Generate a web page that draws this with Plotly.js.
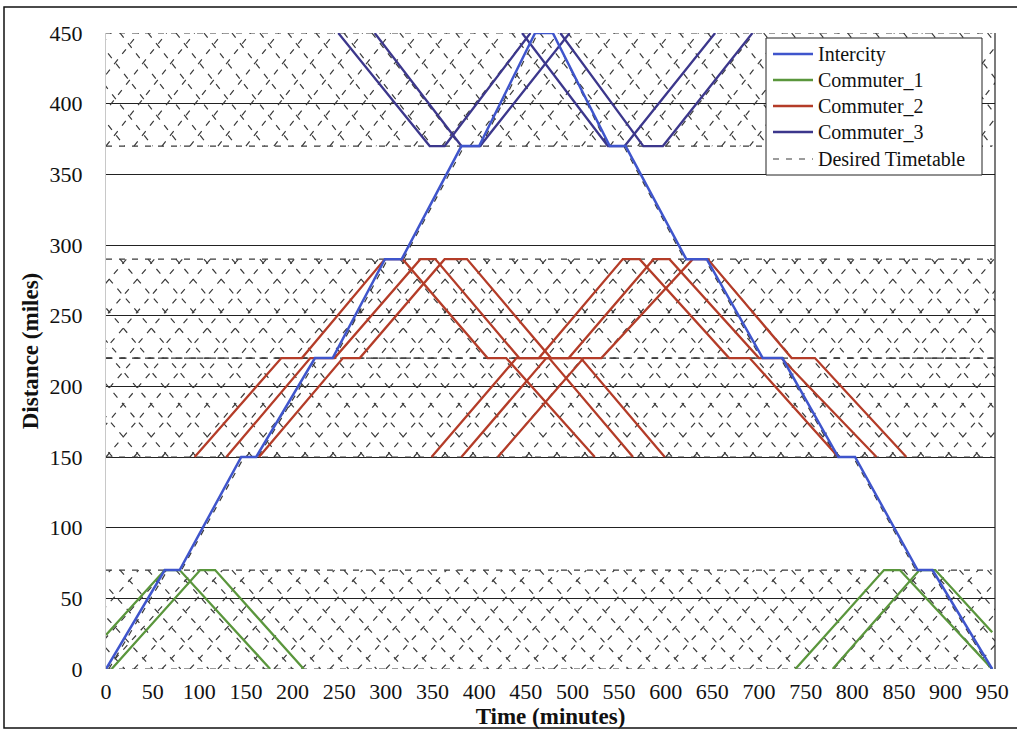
<!DOCTYPE html>
<html>
<head>
<meta charset="utf-8">
<script src="https://cdn.plot.ly/plotly-3.0.1.min.js"></script>
<style>html,body{margin:0;padding:0;background:#fff;}#chart{width:1017px;height:732px;}</style>
</head>
<body>
<div id="chart"></div>
<script>
// ---------------- data ----------------
const xTicks = [0,50,100,150,200,250,300,350,400,450,500,550,600,650,700,750,800,850,900,950];
const yTicks = [0,50,100,150,200,250,300,350,400,450];

// Intercity (time in minutes, distance in miles)
const icTime = [0,63,79,145,161,224,243,299,317,381,400,460,479,540,557,622,644,704,725,785,803,870,886,950];
const icDist = [0,70,70,150,150,220,220,290,290,370,370,450,450,370,370,290,290,220,220,150,150,70,70,0];

// Commuter_1 trips
const c1Time = [[0,63,79,176],[6,101,117,212],[739,834,851,950],[779,872,889,950]];
const c1Dist = [[24,70,70,0],[0,70,70,0],[0,70,70,0],[0,70,70,26]];

// Commuter_2 trips
const c2Time = [
  [95,188,210,299,318,409,429,524],
  [129,219,245,337,353,443,475,565],
  [164,254,272,363,387,477,509,599],
  [349,440,464,554,572,668,690,785],
  [381,472,496,587,604,700,724,826],
  [420,512,531,629,645,735,760,858]
];
const c2Dist = [150,220,220,290,290,220,220,150];

// Commuter_3 trips
const c3Time = [[249,347,363,455],[288,381,401,497],[446,538,556,653],[487,576,597,693]];
const c3Dist = [450,370,370,450];

// Desired timetable
const icDesiredTime = [3,66,81,148,163,227,245,302,319,384,402,463,479,538,555,620,642,702,723,783,801,868,884,948];
const zoneBottom = [0,150,370];
const zoneMid    = [null,220,null];
const zoneTop    = [70,290,450];
const zoneLegTime = [95,91,95];
const zoneMidDwell = [0,20,0];
const desiredUpDepart = [-210,-180,-150,-120,-90,-60,-30,0,30,60,90,120,150,180,210,240,270,300,330,360,390,420,450,480,510,540,570,600,630,660,690,720,750,780,810,840,870,900,930];
const desiredDownDepart = [-195,-165,-135,-105,-75,-45,-15,15,45,75,105,135,165,195,225,255,285,315,345,375,405,435,465,495,525,555,585,615,645,675,705,735,765,795,825,855,885,915,945];
const desiredSpan = [0,950];

// Legend entries
const legendNames = ['Intercity','Commuter_1','Commuter_2','Commuter_3','Desired Timetable'];
const legendColors = ['#3F55CC','#5A963C','#B43C28','#3C378C','#3a3a3a'];

// ---------------- build ----------------
function joinTrips(times, dists, shared) {
  const x = [], y = [];
  times.forEach((t, i) => {
    const d = shared ? dists : dists[i];
    t.forEach((v, k) => { x.push(v); y.push(d[k]); });
    x.push(null); y.push(null);
  });
  return {x, y};
}

const dx = [], dy = [];
function seg(xs, ys) { xs.forEach((v,k)=>{dx.push(v); dy.push(ys[k]);}); dx.push(null); dy.push(null); }
for (let z = 0; z < zoneBottom.length; z++) {
  const b = zoneBottom[z], t = zoneTop[z], m = zoneMid[z];
  const L = zoneLegTime[z], w = zoneMidDwell[z];
  desiredUpDepart.forEach(d0 => {
    if (m === null) seg([d0, d0 + L], [b, t]);
    else seg([d0, d0 + L, d0 + L + w, d0 + 2*L + w], [b, m, m, t]);
  });
  desiredDownDepart.forEach(d0 => {
    if (m === null) seg([d0, d0 + L], [t, b]);
    else seg([d0, d0 + L, d0 + L + w, d0 + 2*L + w], [t, m, m, b]);
  });
  [b, m, t].forEach(lv => { if (lv !== null) seg(desiredSpan, [lv, lv]); });
}
seg(icDesiredTime, icDist);

const c1 = joinTrips(c1Time, c1Dist, false);
const c2 = joinTrips(c2Time, c2Dist, true);
const c3 = joinTrips(c3Time, c3Dist, true);

const dashStyle = '6px,7px';
const traces = [
  {x: dx, y: dy, mode: 'lines', name: legendNames[4],
   line: {color: legendColors[4], width: 1.2, dash: dashStyle}, connectgaps: false},
  {x: c1.x, y: c1.y, mode: 'lines', name: legendNames[1],
   line: {color: legendColors[1], width: 2.3}, connectgaps: false},
  {x: c2.x, y: c2.y, mode: 'lines', name: legendNames[2],
   line: {color: legendColors[2], width: 2.3}, connectgaps: false},
  {x: c3.x, y: c3.y, mode: 'lines', name: legendNames[3],
   line: {color: legendColors[3], width: 2.3}, connectgaps: false},
  {x: icTime, y: icDist, mode: 'lines', name: legendNames[0],
   line: {color: legendColors[0], width: 2.5}}
];

// ---------------- layout ----------------
const W = 1017, H = 732, M = {l: 106, r: 22, t: 33, b: 63};
const PW = W - M.l - M.r, PH = H - M.t - M.b;
const px2x = px => (px - M.l) / PW;
const py2y = py => (H - M.b - py) / PH;

const serif = 'Liberation Serif, Times New Roman, serif';
const shapes = [
  {type: 'line', xref: 'paper', yref: 'paper', x0: 1, x1: 1, y0: 0, y1: 1,
   line: {color: '#222', width: 1.2}},
  {type: 'rect', xref: 'paper', yref: 'paper', x0: px2x(4), x1: px2x(1030), y0: py2y(728), y1: py2y(7),
   line: {color: '#111', width: 1.5}, fillcolor: 'rgba(0,0,0,0)'},
  // legend box
  {type: 'rect', xref: 'paper', yref: 'paper', x0: px2x(766), x1: px2x(982), y0: py2y(175), y1: py2y(38),
   line: {color: '#222', width: 1}, fillcolor: '#ffffff', layer: 'above'}
];
const annotations = [];
const rowY = [54, 80, 106, 132, 159];
legendNames.forEach((nm, i) => {
  shapes.push({type: 'line', xref: 'paper', yref: 'paper', x0: px2x(773), x1: px2x(813),
    y0: py2y(rowY[i]), y1: py2y(rowY[i]), layer: 'above',
    line: {color: legendColors[i], width: i === 4 ? 1.2 : 2.5, dash: i === 4 ? dashStyle : 'solid'}});
  annotations.push({xref: 'paper', yref: 'paper', x: px2x(816), y: py2y(rowY[i]),
    xanchor: 'left', yanchor: 'middle', showarrow: false, text: nm,
    font: {family: serif, size: 20, color: '#111'}});
});

const layout = {
  width: W, height: H,
  margin: M,
  paper_bgcolor: '#ffffff', plot_bgcolor: '#ffffff',
  font: {family: serif, color: '#111', size: 20},
  showlegend: false,
  xaxis: {
    range: [0, 953], tickvals: xTicks, ticktext: xTicks.map(String),
    showgrid: false, zeroline: false, showline: false, ticks: '',
    ticklabelstandoff: 7,
    tickfont: {family: serif, size: 22, color: '#111'},
    title: {text: '<b>Time (minutes)</b>', font: {family: serif, size: 23, color: '#111'}, standoff: 4}
  },
  yaxis: {
    range: [0, 450], tickvals: yTicks, ticktext: yTicks.map(String),
    showgrid: true, gridcolor: '#222', gridwidth: 1, zeroline: false,
    showline: true, linecolor: '#c8c8c8', linewidth: 1, ticks: '',
    ticklabelstandoff: 18,
    tickfont: {family: serif, size: 22, color: '#111'},
    title: {text: '<b>Distance (miles)</b>', font: {family: serif, size: 23, color: '#111'}, standoff: 4}
  },
  shapes: shapes,
  annotations: annotations
};

Plotly.newPlot('chart', traces, layout, {staticPlot: true, displayModeBar: false});
</script>
</body>
</html>
